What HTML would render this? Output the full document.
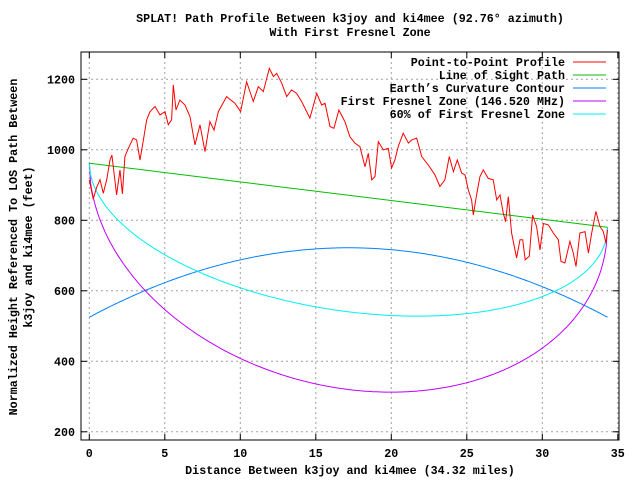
<!DOCTYPE html>
<html><head><meta charset="utf-8">
<style>
html,body{margin:0;padding:0;background:#fff;}
svg{display:block;font-family:"Liberation Mono",monospace;font-weight:bold;font-size:11.7px;}
</style></head>
<body>
<svg id="chart" width="640" height="480" viewBox="0 0 640 480" xmlns="http://www.w3.org/2000/svg">
<rect width="640" height="480" fill="#fff"/>
<text x="350" y="22" text-anchor="middle">SPLAT! Path Profile Between k3joy and ki4mee (92.76° azimuth)</text>
<text x="350" y="36" text-anchor="middle">With First Fresnel Zone</text>
<text transform="translate(17,247) rotate(-90)" text-anchor="middle">Normalized Height Referenced To LOS Path Between</text>
<text transform="translate(32,247) rotate(-90)" text-anchor="middle">k3joy and ki4mee (feet)</text>
<text x="350" y="474" text-anchor="middle">Distance Between k3joy and ki4mee (34.32 miles)</text>
<g id="grid"></g>
<g id="axes"></g>
<g id="series"></g>
<g id="legend"></g>
</svg>
<script>
// ---- data ----
const profileMiles = [0,0.26,0.49,0.71,0.93,1.15,1.37,1.50,1.59,1.81,2.03,2.19,2.36,2.58,2.91,3.13,3.36,3.58,3.80,4.02,4.35,4.68,5.01,5.23,5.45,5.56,5.74,6.00,6.34,6.67,7.00,7.33,7.66,7.99,8.26,8.54,9.09,9.65,10.02,10.42,10.86,11.19,11.52,11.92,12.19,12.41,12.74,13.07,13.40,13.73,14.06,14.61,15.06,15.39,15.61,15.94,16.20,16.53,
16.93,17.26,17.59,17.92,18.26,18.48,18.70,18.92,19.14,19.47,19.80,20.02,20.24,20.46,20.79,21.13,21.35,21.68,22.01,22.45,22.89,23.22,23.55,23.84,24.11,24.37,24.66,24.88,25.10,25.32,25.43,25.65,25.87,26.09,26.42,26.75,26.98,27.20,27.42,27.57,27.75,27.97,28.30,28.52,28.70,28.87,29.14,29.36,29.62,29.85,30.07,30.40,30.73,31.06,31.24,31.50,31.83,32.05,32.23,32.49,32.83,33.05,33.27,33.55,33.82,34.04,34.22,34.32];
const profileFeet = [915,860,894,915,877,915,971,985,952,872,943,875,981,1004,1033,1028,971,1028,1085,1108,1123,1099,1108,1071,1085,1184,1113,1141,1127,1094,1014,1071,995,1080,1056,1108,1151,1132,1108,1193,1137,1179,1165,1231,1208,1217,1189,1151,1170,1160,1137,1090,1160,1127,1132,1066,1061,1113,
1080,1037,1019,1009,952,990,915,924,1023,1000,1004,948,971,1009,1047,1019,1028,1033,981,957,929,896,915,981,938,971,934,929,886,858,815,872,924,943,919,915,858,872,820,796,867,764,693,745,745,688,698,815,782,716,791,787,764,745,683,679,740,707,669,764,768,707,764,825,782,768,735,773];
const pathLength = [34.32];
const losEnds = [962, 780];
const curvatureEnds = [525, 722];
const fresnelRadius = [551];
const fresnelFraction = [1.0, 0.6];
const xTicks = [0,5,10,15,20,25,30,35];
const yTicks = [200,400,600,800,1000,1200];
const legendLabels = ["Point-to-Point Profile","Line of Sight Path","Earth\u2019s Curvature Contour","First Fresnel Zone (146.520 MHz)","60% of First Fresnel Zone"];
const legendColors = ["#ff0000","#00c000","#0080ff","#c000ff","#00eeee"];

// ---- scales ----
const L=81,R=619,T=52,B=440;
const X0=89.3, PXM=15.1;
const xs = m => X0 + m*PXM;
const ys = v => 79.3 + (1200-v)*0.3525;
const NS="http://www.w3.org/2000/svg";
function mk(tag, attrs, parent){const e=document.createElementNS(NS,tag);for(const k in attrs)e.setAttribute(k,attrs[k]);parent.appendChild(e);return e;}
const grid=document.getElementById('grid'), axes=document.getElementById('axes'), series=document.getElementById('series'), legend=document.getElementById('legend');

xTicks.forEach(t=>{
  const x=xs(t);
  const g=mk('line',{x1:x,x2:x,y1:T,y2:B,stroke:'#a0a0a0','stroke-dasharray':'2,3'},grid);
  
  
  mk('line',{x1:x,x2:x,y1:B,y2:B-6,stroke:'#000'},axes);
  mk('line',{x1:x,x2:x,y1:T,y2:T+6,stroke:'#000'},axes);
  const tx=mk('text',{x:x,y:457,'text-anchor':'middle'},axes);
  tx.textContent=t;
  
  
});
yTicks.forEach(t=>{
  const y=ys(t);
  const g=mk('line',{x1:L,x2:R,y1:y,y2:y,stroke:'#a0a0a0','stroke-dasharray':'2,3'},grid);
  
  
  mk('line',{x1:L,x2:L+6,y1:y,y2:y,stroke:'#000'},axes);
  mk('line',{x1:R,x2:R-6,y1:y,y2:y,stroke:'#000'},axes);
  const tx=mk('text',{x:75,y:y+4,'text-anchor':'end'},axes);
  tx.textContent=t;
  
  
});
const frame=mk('rect',{x:L,y:T,width:R-L,height:B-T,fill:'none',stroke:'#000'},axes);



function poly(pts,color,name){
  const p=mk('polyline',{points:pts.map(q=>xs(q[0]).toFixed(1)+','+ys(q[1]).toFixed(1)).join(' '),fill:'none',stroke:color,'stroke-width':1},series);
  
  
}
const D=pathLength[0];
const los = m => losEnds[0] + (losEnds[1]-losEnds[0])*m/D;
const samples=[];for(let i=0;i<=400;i++)samples.push(D*i/400);
poly(samples.map(m=>[m, curvatureEnds[0] + (curvatureEnds[1]-curvatureEnds[0])*4*m*(D-m)/(D*D)]), legendColors[2],'earth-curvature-line');
poly(samples.map(m=>[m, los(m) - fresnelFraction[0]*fresnelRadius[0]*Math.sqrt(m*(D-m))/(D/2)]), legendColors[3],'first-fresnel-zone-line');
poly(samples.map(m=>[m, los(m) - fresnelFraction[1]*fresnelRadius[0]*Math.sqrt(m*(D-m))/(D/2)]), legendColors[4],'fresnel-60-line');
poly([[0,los(0)],[D,los(D)]], legendColors[1],'line-of-sight');
poly(profileMiles.map((m,i)=>[m,profileFeet[i]]), legendColors[0],'terrain-profile-line');

legendLabels.forEach((lab,i)=>{
  const y=62+i*13;
  const t=mk('text',{x:565,y:y+4,'text-anchor':'end'},legend);
  t.textContent=lab;
  
  
  const l=mk('line',{x1:573,x2:606,y1:y,y2:y,stroke:legendColors[i]},legend);
  
  
});
</script>
</body></html>
